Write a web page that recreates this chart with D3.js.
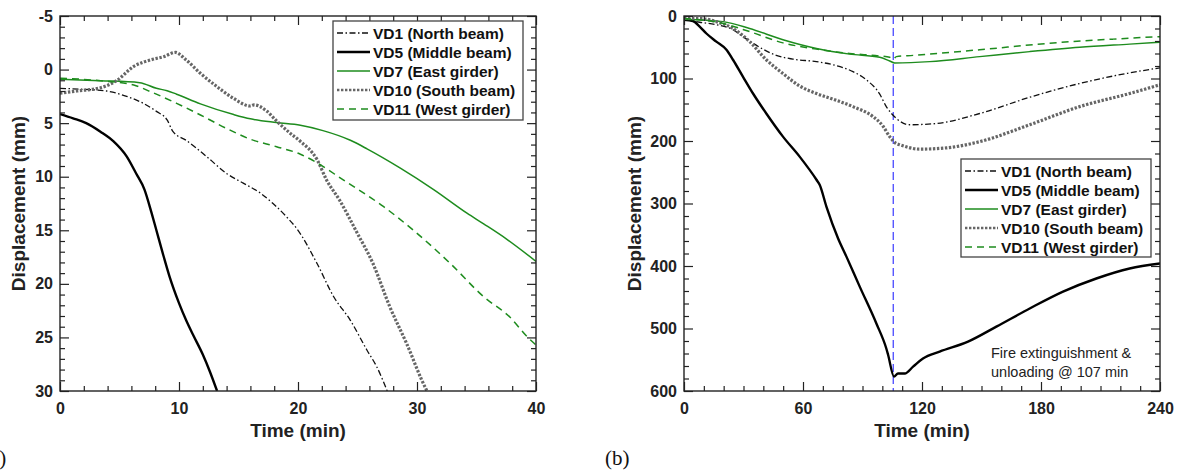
<!DOCTYPE html>
<html><head><meta charset="utf-8">
<script src="https://cdn.jsdelivr.net/npm/d3@7"></script>
<style>
html,body{margin:0;padding:0;background:#fff;}
svg{display:block;font-family:"Liberation Sans",Arial,sans-serif;}
</style></head>
<body><svg id="c" width="1177" height="470"></svg>
<script>
// ---------- DATA ----------
const seriesNames = ["VD1 (North beam)","VD5 (Middle beam)","VD7 (East girder)","VD10 (South beam)","VD11 (West girder)"];

// Panel (a): [time (min), displacement (mm)]
const aVD1 = [[0,1.75],[2.0,1.85],[3.9,2.0],[5.6,2.5],[7.0,3.15],[8.1,3.9],[9.0,4.7],[9.5,5.8],[10.6,6.6],[12.3,8.1],[14.0,9.7],[15.4,10.6],[16.8,11.5],[17.9,12.5],[19.0,13.7],[20.0,15.0],[21.6,18.1],[23.0,21.2],[24.4,23.4],[25.8,26.2],[26.6,27.7],[27.5,30.0]];
const aVD5 = [[0,4.15],[1.1,4.55],[2.2,5.0],[3.4,5.8],[4.5,6.7],[5.6,8.1],[6.4,9.7],[7.1,11.2],[7.7,13.4],[8.1,15.0],[8.7,17.4],[9.2,19.3],[10.0,21.8],[10.6,23.4],[11.2,24.8],[12.0,26.6],[12.6,28.2],[13.2,30.0]];
const aVD7 = [[0,0.9],[3.4,1.04],[6.7,1.22],[8.1,1.75],[9.0,1.97],[9.8,2.3],[11.8,3.2],[14.6,4.2],[16.0,4.6],[18.2,4.95],[20.2,5.2],[22.1,5.7],[24.4,6.6],[25.8,7.4],[28.6,9.2],[31.4,11.2],[34.2,13.4],[35.6,14.4],[37.5,15.8],[40,17.9]];
const aVD10 = [[0,2.2],[1.4,2.0],[3.4,1.7],[4.8,1.0],[6.2,-0.3],[7.6,-0.9],[8.7,-1.2],[9.7,-1.6],[10.6,-0.9],[11.8,0.35],[13.2,1.6],[14.6,2.7],[16.0,3.4],[16.3,3.3],[17.4,3.9],[18.2,4.8],[19.3,5.9],[20.2,6.7],[21.6,8.4],[22.4,10.3],[23.5,12.2],[24.9,15.1],[26.3,18.1],[27.7,22.1],[29.1,25.5],[30.8,29.9],[31.0,30.3]];
const aVD11 = [[0,0.8],[3.4,1.04],[6.2,1.44],[7.6,2.06],[9.8,3.15],[11.8,4.24],[14.0,5.5],[16.0,6.5],[18.2,7.2],[20.2,7.9],[21.6,8.7],[23.8,10.3],[27.2,12.8],[29.7,15.0],[32.8,18.1],[35.6,21.2],[37.8,23.1],[39.4,25.1],[40,25.7]];

// Panel (b)
const bVD1 = [[0,5],[7.9,10],[16.3,14],[24.7,22],[29.7,33],[38.1,50],[46.5,63],[54.9,69],[66.8,73],[75.1,78],[85.2,89],[91.9,102],[98.7,125],[102,145],[104.6,156],[107.1,164],[113.8,174],[127.3,172],[149.1,156],[174.3,130],[199.5,108],[224.7,91],[240,83]];
const bVD5 = [[0,6],[4.5,8],[7.9,17],[11.3,28],[16.3,41],[21.4,54],[24.7,70],[29.7,97],[34.8,124],[41.5,156],[49.9,193],[58.3,225],[66.8,262],[68.4,270],[71.8,305],[77.7,356],[81.9,385],[88.6,433],[97,492],[102,532],[102.9,542],[105.9,577],[107.9,572],[111.3,572],[115.5,561],[120.5,548],[128.9,537],[143.2,521],[157.5,497],[174.3,468],[191.1,441],[207.9,420],[224.7,404],[240,396]];
const bVD7 = [[0,5],[19.7,9],[33.1,20],[49.9,38],[66.8,52],[83.5,61],[98.7,66],[103.7,72],[106.2,75],[123.9,73],[149.1,65],[174.3,57],[199.5,50],[224.7,45],[240,42]];
const bVD10 = [[0,4],[7.9,4],[16.3,9],[24.7,20],[33.1,41],[41.5,70],[49.9,92],[58.3,112],[66.8,124],[75.1,133],[85.2,145],[95.3,161],[100.3,176],[103.7,193],[107,204],[108.8,206],[118.8,213],[132.3,211],[149.1,201],[174.3,174],[199.5,145],[224.7,124],[240,110]];
const bVD11 = [[0,4],[19.7,12],[33.1,25],[49.9,43],[66.8,53],[83.5,60],[98.7,64],[103.7,66],[105.4,69],[107.1,65],[115.5,63],[149.1,54],[182.7,44],[216.3,37],[240,33]];

const aXTicks = [0,10,20,30,40];
const aYTicks = [-5,0,5,10,15,20,25,30];
const bXTicks = [0,60,120,180,240];
const bYTicks = [0,100,200,300,400,500,600];
const fireTime = 105.5;
const noteLines = ["Fire extinguishment &","unloading @ 107 min"];

// ---------- STYLES ----------
const GREEN = "#1e8c1e";
const styles = [
  {stroke:"#111", width:1.3, dash:"6,2.5,1.5,2.5"},
  {stroke:"#000", width:2.4, dash:null},
  {stroke:GREEN, width:1.5, dash:null},
  {stroke:"#666", width:3.2, dash:"2.4,1.6"},
  {stroke:GREEN, width:1.5, dash:"7,5"}
];

const svg = d3.select("#c");
const fmt = d => String(d);

function panel(opts){
  const {x0,x1,y0,y1,xDom,yDom,xTicks,yTicks,xMinor,yMinor,series,legend,id} = opts;
  const x = d3.scaleLinear().domain(xDom).range([x0,x1]);
  const y = d3.scaleLinear().domain(yDom).range([y0,y1]);
  const g = svg.append("g");
  g.append("clipPath").attr("id",id).append("rect")
    .attr("x",x0).attr("y",y0).attr("width",x1-x0).attr("height",y1-y0);

  const line = d3.line().x(d=>x(d[0])).y(d=>y(d[1])).curve(d3.curveMonotoneX);
  const lg = g.append("g").attr("clip-path",`url(#${id})`);
  if (opts.extra) opts.extra(lg,x,y);
  series.forEach((s,i)=>{
    const st = styles[i];
    lg.append("path").datum(s).attr("d",line).attr("fill","none")
      .attr("stroke",st.stroke).attr("stroke-width",st.width)
      .attr("stroke-dasharray",st.dash).attr("stroke-linejoin","round");
  });

  const axCol = "#222";
  const mk = (axis, tr) => {
    const a = g.append("g").attr("transform",tr).call(axis);
    a.select(".domain").remove();
    a.selectAll("line").attr("stroke",axCol).attr("stroke-width",1.2);
    return a;
  };
  const minorX = d3.range(xDom[0], xDom[1]+1e-9, xMinor).filter(v=>!xTicks.includes(v));
  const minorY = d3.range(yDom[0], yDom[1]+1e-9, yMinor).filter(v=>!yTicks.some(t=>Math.abs(t-v)<1e-9));
  const bx = mk(d3.axisBottom(x).tickValues(xTicks).tickFormat(fmt).tickSizeInner(-9).tickSizeOuter(0).tickPadding(12), `translate(0,${y1})`);
  bx.selectAll("text").attr("fill","#222").style("font-size","16px").style("font-weight","bold");
  mk(d3.axisBottom(x).tickValues(minorX).tickSizeInner(-5).tickSizeOuter(0).tickFormat(""), `translate(0,${y1})`);
  mk(d3.axisTop(x).tickValues(xTicks).tickSizeInner(-9).tickSizeOuter(0).tickFormat(""), `translate(0,${y0})`);
  mk(d3.axisTop(x).tickValues(minorX).tickSizeInner(-5).tickSizeOuter(0).tickFormat(""), `translate(0,${y0})`);
  const ly = mk(d3.axisLeft(y).tickValues(yTicks).tickFormat(fmt).tickSizeInner(-9).tickSizeOuter(0).tickPadding(7), `translate(${x0},0)`);
  ly.selectAll("text").attr("fill","#222").style("font-size","16px").style("font-weight","bold");
  mk(d3.axisLeft(y).tickValues(minorY).tickSizeInner(-5).tickSizeOuter(0).tickFormat(""), `translate(${x0},0)`);
  mk(d3.axisRight(y).tickValues(yTicks).tickSizeInner(-9).tickSizeOuter(0).tickFormat(""), `translate(${x1},0)`);
  mk(d3.axisRight(y).tickValues(minorY).tickSizeInner(-5).tickSizeOuter(0).tickFormat(""), `translate(${x1},0)`);

  g.append("rect").attr("x",x0).attr("y",y0).attr("width",x1-x0).attr("height",y1-y0)
    .attr("fill","none").attr("stroke",axCol).attr("stroke-width",1.4);

  g.append("text").attr("x",(x0+x1)/2).attr("y",437).attr("text-anchor","middle")
    .attr("fill","#222").style("font-size","19px").style("font-weight","bold").text("Time (min)");
  g.append("text").attr("transform",`translate(${opts.ytx},${(y0+y1)/2}) rotate(-90)`)
    .attr("text-anchor","middle").attr("fill","#222").style("font-size","19px").style("font-weight","bold")
    .text("Displacement (mm)");

  const L = legend;
  const lgd = g.append("g");
  lgd.append("rect").attr("x",L.x).attr("y",L.y).attr("width",L.w).attr("height",L.h)
    .attr("fill","#fff").attr("stroke","#444").attr("stroke-width",1.3);
  seriesNames.forEach((n,i)=>{
    const yy = L.y + 12 + i*19;
    const st = styles[i];
    lgd.append("line").attr("x1",L.x+4).attr("x2",L.x+37).attr("y1",yy).attr("y2",yy)
      .attr("stroke",st.stroke).attr("stroke-width",Math.min(st.width,2.6)).attr("stroke-dasharray",st.dash);
    lgd.append("text").attr("x",L.x+40).attr("y",yy).attr("dy","0.36em")
      .attr("fill","#111").style("font-size","15.5px").style("font-weight","bold").text(n);
  });
  return {x,y,g};
}

panel({id:"clipA",x0:60,x1:536,y0:16,y1:391,xDom:[0,40],yDom:[-5,30],xTicks:aXTicks,yTicks:aYTicks,
  xMinor:2,yMinor:1,series:[aVD1,aVD5,aVD7,aVD10,aVD11],ytx:25,
  legend:{x:333,y:21,w:190,h:99}});

panel({id:"clipB",x0:684,x1:1160,y0:16,y1:391,xDom:[0,240],yDom:[0,600],xTicks:bXTicks,yTicks:bYTicks,
  xMinor:10,yMinor:20,series:[bVD1,bVD5,bVD7,bVD10,bVD11],ytx:641,
  legend:{x:961,y:159,w:190,h:98},
  extra:(lg,x,y)=>{
    lg.append("line").attr("x1",x(fireTime)).attr("x2",x(fireTime)).attr("y1",y(0)).attr("y2",y(600))
      .attr("stroke","#3a3aff").attr("stroke-width",1.2).attr("stroke-dasharray","8,4");
  }});

noteLines.forEach((t,i)=>{
  svg.append("text").attr("x",991).attr("y",358+i*19).attr("fill","#222")
    .style("font-size","14.5px").text(t);
});

svg.append("text").attr("x",-17).attr("y",465).style("font-family","'Liberation Serif','Times New Roman',serif")
  .style("font-size","21px").attr("fill","#111").text("(a)");
svg.append("text").attr("x",605).attr("y",465).style("font-family","'Liberation Serif','Times New Roman',serif")
  .style("font-size","21px").attr("fill","#111").text("(b)");
</script></body></html>
